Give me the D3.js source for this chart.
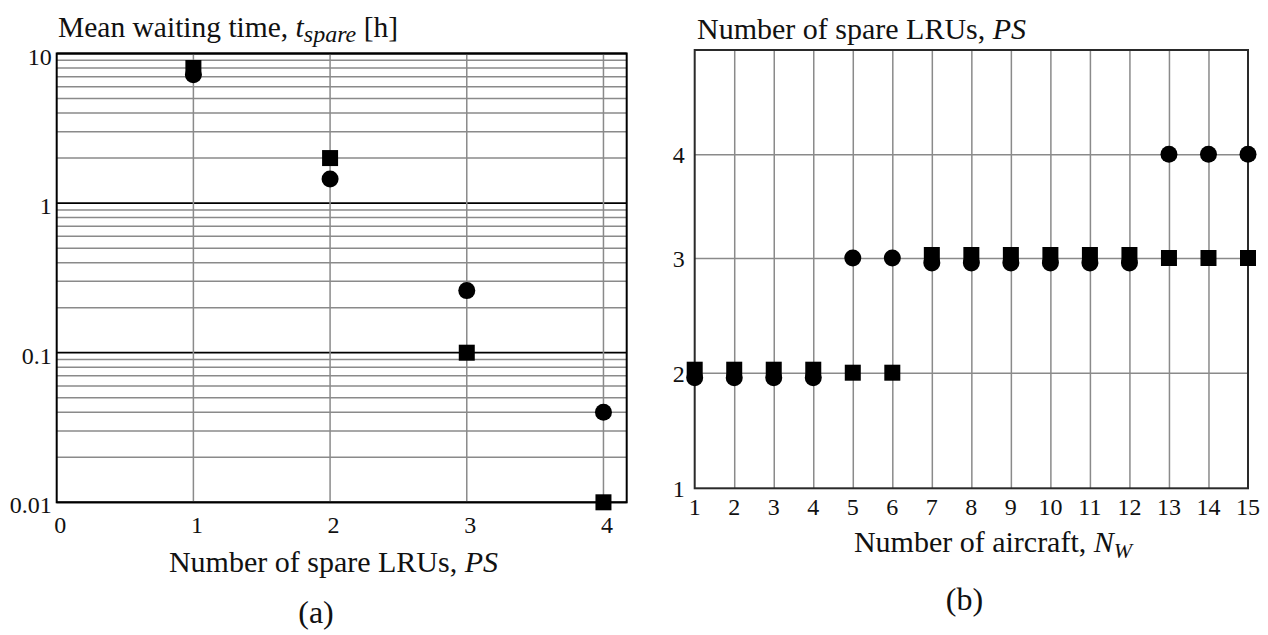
<!DOCTYPE html>
<html>
<head>
  <meta charset="utf-8">
<style type="text/css">
  body { margin: 0; background: #fff; }
  text { font-family: "Liberation Serif", "Times New Roman", serif; fill: #111; }
</style>
</head>
<script src="https://cdn.jsdelivr.net/npm/d3@7"></script>
<body>
<script>
  // (a) mean waiting time vs number of spare LRUs
  var spareLRUs = [1, 2, 3, 4];
  var waitSquare = [8.0, 2.0, 0.1, 0.01];
  var waitCircle = [7.2, 1.45, 0.26, 0.04];
  var waitTicks = [10, 1, 0.1, 0.01];
  var waitTickLabels = ["10", "1", "0.1", "0.01"];
  var spareTicks = [0, 1, 2, 3, 4];

  // (b) number of spare LRUs vs number of aircraft
  var aircraft = [1, 2, 3, 4, 5, 6, 7, 8, 9, 10, 11, 12, 13, 14, 15];
  var psSquare = [2, 2, 2, 2, 2, 2, 3, 3, 3, 3, 3, 3, 3, 3, 3];
  var psCircle = [2, 2, 2, 2, 3, 3, 3, 3, 3, 3, 3, 3, 4, 4, 4];
  var psTicks = [1, 2, 3, 4];

  var w = 1268, h = 635;
  var gridColor = "#8a8a8a";
  var sq = 16, rad = 8.5;

  var svg = d3.select("body").append("svg")
    .attr("width", w)
    .attr("height", h);

  // ---------- chart (a) ----------
  var xA = d3.scaleLinear().domain([0, 4.17]).range([56.7, 626.7]);
  var yA = d3.scaleLog().domain([0.01, 10]).range([502.3, 53.5]);
  var gA = svg.append("g");

  var isMajor = function (v) { return Math.abs(Math.log10(v) - Math.round(Math.log10(v))) < 1e-6; };

  gA.selectAll("line.hgrid")
    .data(yA.ticks())
    .enter().append("line")
    .attr("class", "hgrid")
    .attr("x1", xA.range()[0]).attr("x2", xA.range()[1])
    .attr("y1", function (d) { return yA(d); })
    .attr("y2", function (d) { return yA(d); })
    .attr("stroke", function (d) { return isMajor(d) ? "#000" : gridColor; })
    .attr("stroke-width", function (d) { return isMajor(d) ? 1.8 : 1.5; });

  gA.selectAll("line.vgrid")
    .data(spareTicks.slice(1))
    .enter().append("line")
    .attr("class", "vgrid")
    .attr("x1", function (d) { return xA(d); })
    .attr("x2", function (d) { return xA(d); })
    .attr("y1", yA.range()[0]).attr("y2", yA.range()[1])
    .attr("stroke", gridColor).attr("stroke-width", 1.5);

  gA.append("rect")
    .attr("x", xA.range()[0]).attr("y", yA.range()[1])
    .attr("width", xA.range()[1] - xA.range()[0])
    .attr("height", yA.range()[0] - yA.range()[1])
    .attr("fill", "none").attr("stroke", "#000").attr("stroke-width", 2);

  gA.selectAll("circle")
    .data(spareLRUs)
    .enter().append("circle")
    .attr("cx", function (d) { return xA(d); })
    .attr("cy", function (d, i) { return yA(waitCircle[i]); })
    .attr("r", rad).attr("fill", "#000");

  gA.selectAll("rect.mk")
    .data(spareLRUs)
    .enter().append("rect")
    .attr("class", "mk")
    .attr("x", function (d) { return xA(d) - sq / 2; })
    .attr("y", function (d, i) { return yA(waitSquare[i]) - sq / 2; })
    .attr("width", sq).attr("height", sq).attr("fill", "#000");

  gA.selectAll("text.ytick")
    .data(waitTicks)
    .enter().append("text")
    .attr("class", "ytick")
    .attr("x", xA.range()[0] - 5)
    .attr("y", function (d) { return yA(d) + 11; })
    .attr("text-anchor", "end")
    .attr("font-size", 24)
    .text(function (d, i) { return waitTickLabels[i]; });

  gA.selectAll("text.xtick")
    .data(spareTicks)
    .enter().append("text")
    .attr("class", "xtick")
    .attr("x", function (d) { return xA(d) + 3.5; })
    .attr("y", yA.range()[0] + 31)
    .attr("text-anchor", "middle")
    .attr("font-size", 24)
    .text(function (d) { return d; });

  var tA = gA.append("text").attr("x", 58).attr("y", 37).attr("font-size", 29.5);
  tA.append("tspan").text("Mean waiting time, ");
  tA.append("tspan").attr("font-style", "italic").text("t");
  tA.append("tspan").attr("font-style", "italic").attr("font-size", 24).attr("dy", 5).text("spare");
  tA.append("tspan").attr("dy", -5).text(" [h]");

  var xlA = gA.append("text").attr("x", 333.5).attr("y", 572)
    .attr("text-anchor", "middle").attr("font-size", 30);
  xlA.append("tspan").text("Number of spare LRUs, ");
  xlA.append("tspan").attr("font-style", "italic").text("PS");

  gA.append("text").attr("x", 316).attr("y", 623)
    .attr("text-anchor", "middle").attr("font-size", 32).text("(a)");

  // ---------- chart (b) ----------
  var xB = d3.scaleLinear().domain([1, 15]).range([694.7, 1248]);
  var yB = d3.scaleLinear().domain([1, 2, 3, 4, 5]).range([488.3, 372.7, 258, 154.3, 50]);
  var gB = svg.append("g");

  gB.append("g")
    .attr("transform", "translate(0," + yB(1) + ")")
    .call(d3.axisBottom(xB).tickValues(aircraft.slice(1, -1))
      .tickSize(-(yB(1) - yB(5))).tickFormat(""))
    .call(function (g) {
      g.select(".domain").remove();
      g.selectAll("line").attr("stroke", gridColor).attr("stroke-width", 1.5);
    });

  gB.append("g")
    .attr("transform", "translate(" + xB(1) + ",0)")
    .call(d3.axisLeft(yB).tickValues(psTicks.slice(1))
      .tickSize(-(xB(15) - xB(1))).tickFormat(""))
    .call(function (g) {
      g.select(".domain").remove();
      g.selectAll("line").attr("stroke", gridColor).attr("stroke-width", 1.5);
    });

  gB.append("rect")
    .attr("x", xB(1)).attr("y", yB(5))
    .attr("width", xB(15) - xB(1))
    .attr("height", yB(1) - yB(5))
    .attr("fill", "none").attr("stroke", "#2a2a2a").attr("stroke-width", 2);

  // coincident markers are drawn nudged apart, as in the original plot
  gB.selectAll("circle")
    .data(aircraft)
    .enter().append("circle")
    .attr("cx", function (d) { return xB(d); })
    .attr("cy", function (d, i) { return yB(psCircle[i]) + (psCircle[i] === psSquare[i] ? 5 : 0); })
    .attr("r", rad).attr("fill", "#000");

  gB.selectAll("rect.mk")
    .data(aircraft)
    .enter().append("rect")
    .attr("class", "mk")
    .attr("x", function (d) { return xB(d) - sq / 2; })
    .attr("y", function (d, i) { return yB(psSquare[i]) - sq / 2 - (psCircle[i] === psSquare[i] ? 3 : 0); })
    .attr("width", sq).attr("height", sq).attr("fill", "#000");

  gB.selectAll("text.ytick")
    .data(psTicks)
    .enter().append("text")
    .attr("class", "ytick")
    .attr("x", xB(1) - 10)
    .attr("y", function (d) { return yB(d) + 9; })
    .attr("text-anchor", "end")
    .attr("font-size", 24)
    .text(function (d) { return d; });

  gB.selectAll("text.xtick")
    .data(aircraft)
    .enter().append("text")
    .attr("class", "xtick")
    .attr("x", function (d) { return xB(d); })
    .attr("y", yB(1) + 27)
    .attr("text-anchor", "middle")
    .attr("font-size", 24)
    .text(function (d) { return d; });

  var tB = gB.append("text").attr("x", 697).attr("y", 39).attr("font-size", 30);
  tB.append("tspan").text("Number of spare LRUs, ");
  tB.append("tspan").attr("font-style", "italic").text("PS");

  var xlB = gB.append("text").attr("x", 993).attr("y", 552)
    .attr("text-anchor", "middle").attr("font-size", 30);
  xlB.append("tspan").text("Number of aircraft, ");
  xlB.append("tspan").attr("font-style", "italic").text("N");
  xlB.append("tspan").attr("font-style", "italic").attr("font-size", 22).attr("dy", 6).text("W");

  gB.append("text").attr("x", 964.5).attr("y", 610)
    .attr("text-anchor", "middle").attr("font-size", 32).text("(b)");
</script>
</body>
</html>
